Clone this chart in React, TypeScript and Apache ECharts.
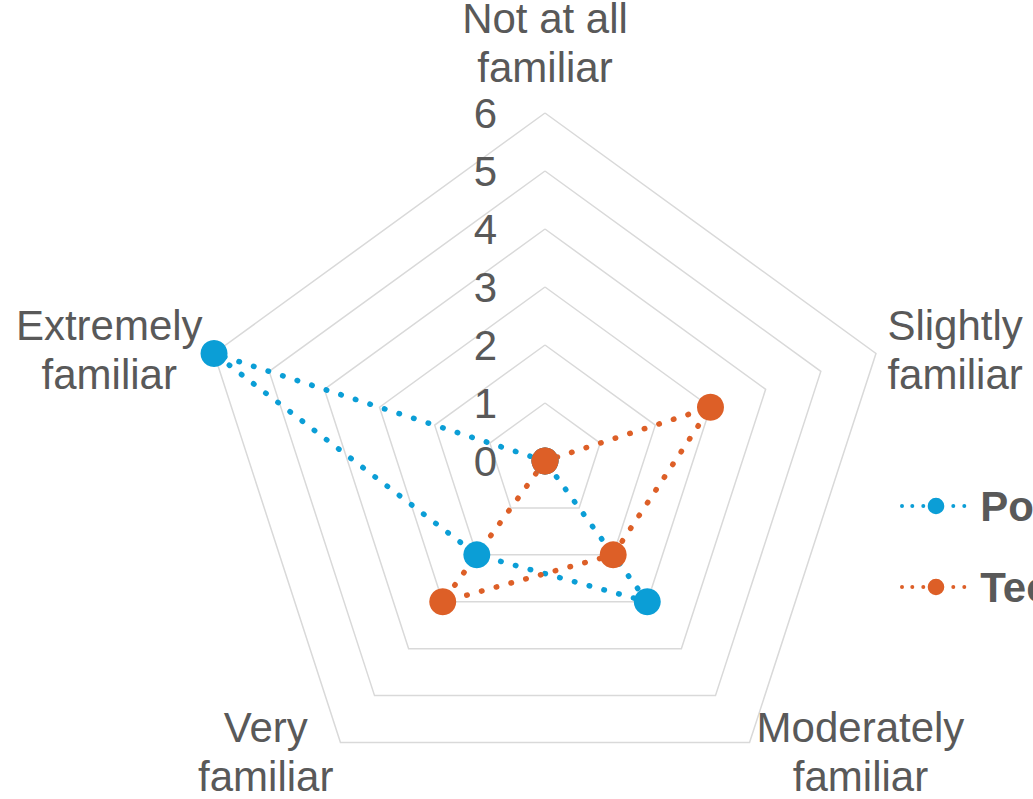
import React, { useEffect, useRef } from "react";
import * as echarts from "echarts";

const categories = [
  "Not at all familiar",
  "Slightly familiar",
  "Moderately familiar",
  "Very familiar",
  "Extremely familiar",
];
const seriesNames = ["Policymakers", "Technologists"];
const firstValues = [0, 0, 3, 2, 6];
const secondValues = [0, 3, 2, 3, 0];
const axisMax = 6;
const tickCount = 6;

// ECharts radar runs counter-clockwise; Excel runs clockwise.
const displayOrder = [0, 4, 3, 2, 1];

const BLUE = "#0B9ED6";
const ORANGE = "#DD5F27";
const TEXT = "#595959";
const FONT = "Liberation Sans, Arial, sans-serif";

function circlePath(cx: number, cy: number, r: number) {
  return `M${cx - r},${cy}a${r},${r} 0 1,0 ${2 * r},0a${r},${r} 0 1,0 ${-2 * r},0Z`;
}
const legendIcon =
  "path://" +
  [
    circlePath(2.7, 8.3, 2),
    circlePath(13, 8.3, 2),
    circlePath(24, 8.3, 2),
    circlePath(36.7, 8.3, 8.3),
    circlePath(54, 8.3, 2),
    circlePath(65, 8.3, 2),
  ].join("");

export default function App() {
  const ref = useRef<HTMLDivElement>(null);
  useEffect(() => {
    if (!ref.current) return;
    const chart = echarts.init(ref.current, undefined, { renderer: "svg" });
    const indicator = displayOrder.map((i, k) => {
      const ind: any = { name: categories[i], max: axisMax, min: 0 };
      if (k === 0) {
        ind.nameGap = 8;
        ind.axisLabel = {
          show: true,
          color: TEXT,
          fontSize: 42,
          fontFamily: FONT,
          margin: 48,
        };
      }
      return ind;
    });
    const lineStyle = (c: string) => ({
      color: c,
      width: 5.5,
      type: [0.5, 14.8] as any,
      cap: "round" as any,
    });
    chart.setOption({
      animation: false,
      backgroundColor: "#ffffff",
      legend: {
        orient: "vertical",
        left: 900,
        top: 482,
        padding: 0,
        itemWidth: 66.3,
        itemHeight: 16.6,
        itemGap: 33,
        data: seriesNames.map((n) => ({ name: n, icon: legendIcon })),
        textStyle: {
          color: TEXT,
          fontSize: 42,
          fontWeight: "bold",
          fontFamily: FONT,
          lineHeight: 48,
          padding: [0, 0, 0, 9],
        },
      },
      radar: {
        center: [545, 461],
        radius: 348,
        startAngle: 90,
        shape: "polygon",
        splitNumber: tickCount,
        indicator,
        axisNameGap: 12,
        axisName: {
          color: TEXT,
          fontSize: 42,
          fontFamily: FONT,
          lineHeight: 49,
          formatter: (name: string) =>
            name
              .replace(" familiar", "\nfamiliar")
              .split("\n")
              .map((l) => `{c|${l}}`)
              .join("\n"),
          rich: {
            c: {
              align: "center",
              color: TEXT,
              fontSize: 42,
              fontFamily: FONT,
              lineHeight: 49,
            },
          },
        },
        axisLine: { show: false },
        axisTick: { show: false },
        axisLabel: { show: false, color: TEXT, fontSize: 42, fontFamily: FONT, margin: 48 },
        splitLine: { lineStyle: { color: "#D9D9D9", width: 1.5 } },
        splitArea: { show: false },
      },
      series: [
        {
          type: "radar",
          symbol: "circle",
          symbolSize: 27,
          data: [
            {
              name: seriesNames[0],
              value: displayOrder.map((i) => firstValues[i]),
              itemStyle: { color: BLUE },
              lineStyle: lineStyle(BLUE),
            },
            {
              name: seriesNames[1],
              value: displayOrder.map((i) => secondValues[i]),
              itemStyle: { color: ORANGE },
              lineStyle: lineStyle(ORANGE),
            },
          ],
        },
      ],
    });
    return () => chart.dispose();
  }, []);
  return (
    <div
      ref={ref}
      style={{ position: "fixed", left: 0, top: 0, width: 1033, height: 799 }}
    />
  );
}
